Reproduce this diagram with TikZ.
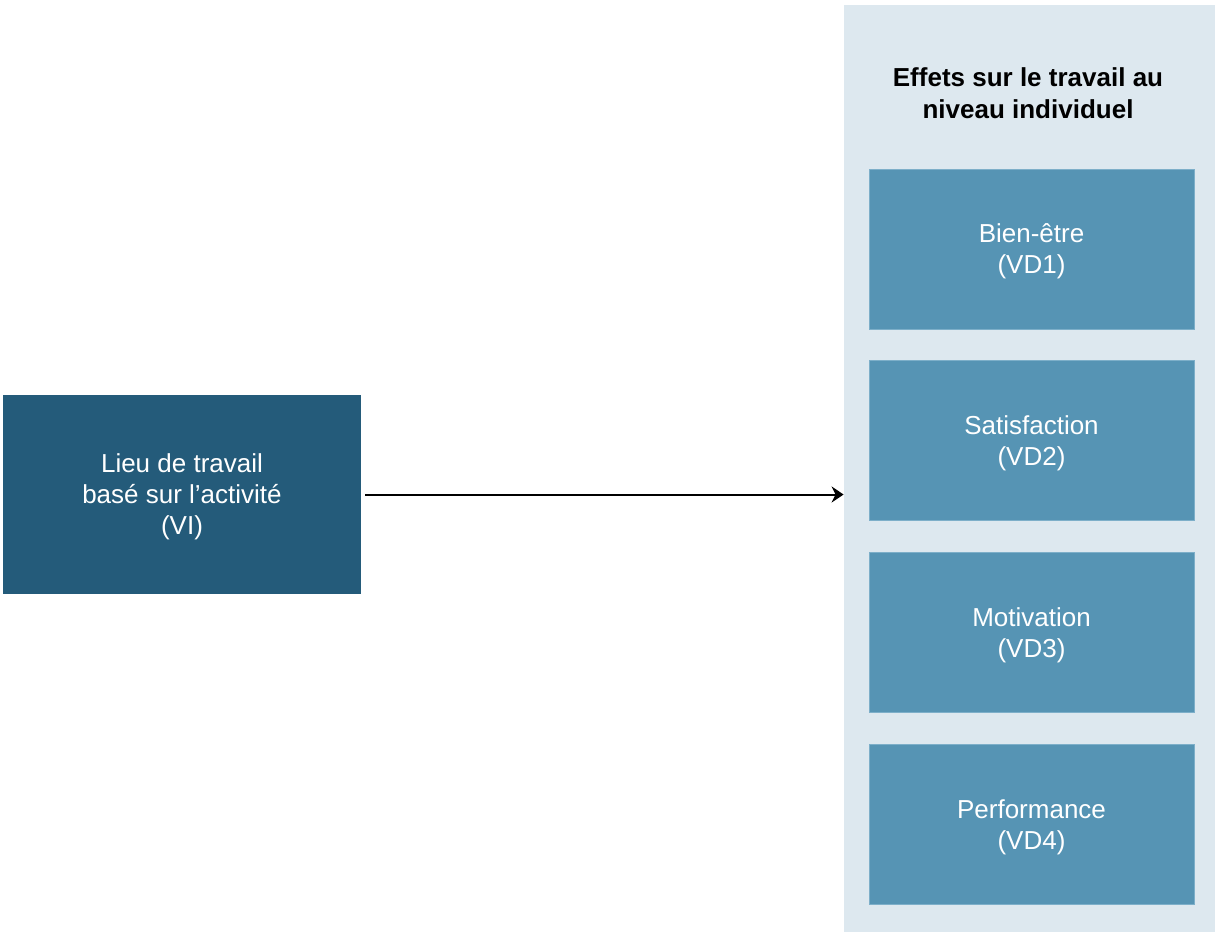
\documentclass[tikz,border=0pt]{standalone}
\usepackage{fontspec}
\setmainfont{Liberation Sans}
\usetikzlibrary{arrows.meta,positioning}

\definecolor{vidark}{HTML}{245B7A}
\definecolor{vdmid}{HTML}{5694B4}
\definecolor{vdedge}{HTML}{7DAFC9}
\definecolor{panelbg}{HTML}{DDE8EF}

\tikzset{
  vibox/.style={fill=vidark,text=white,align=center,minimum width=179pt,minimum height=99.5pt,inner sep=0pt,text depth=-0.5pt},
  vdbox/.style={fill=vdmid,draw=vdedge,line width=0.4pt,text=white,align=center,minimum width=162.5pt,minimum height=80pt,inner sep=0pt,text depth=-2.3pt},
  panel/.style={fill=panelbg,minimum width=185.5pt,minimum height=463.5pt,inner sep=0pt}
}

\begin{document}
\begin{tikzpicture}[x=0.5pt,y=-0.5pt,font=\fontsize{13}{15.5}\selectfont]
\useasboundingbox (0,0) rectangle (1215,932);

\node[panel] (effets) at (1029.5,468.5) {};
\node[font=\fontsize{13}{16}\selectfont\bfseries,align=center] (titre) at (1028,93) {Effets sur le travail au\\niveau individuel};

\node[vdbox] (vd1) at (1031.5,249) {Bien-être\\(VD1)};
\node[vdbox] (vd2) [below=15.5pt of vd1] {Satisfaction\\(VD2)};
\node[vdbox] (vd3) [below=15.5pt of vd2] {Motivation\\(VD3)};
\node[vdbox] (vd4) [below=15.5pt of vd3] {Performance\\(VD4)};

\node[vibox] (vi) at (182,494.5) {Lieu de travail\\basé sur l’activité\\(VI)};

\draw[-{Stealth[length=6pt,width=8pt]},line width=1pt,shorten <=2pt] (vi.east) -- (effets.west |- vi.east);

\end{tikzpicture}
\end{document}
